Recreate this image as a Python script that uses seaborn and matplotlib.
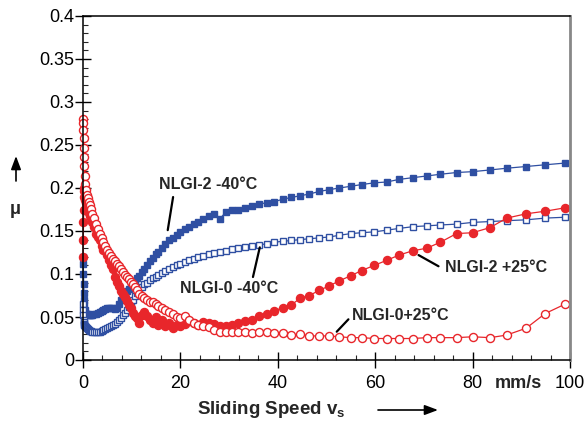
import numpy as np
import seaborn as sns
import matplotlib.pyplot as plt
from matplotlib.ticker import MultipleLocator, FuncFormatter

# sliding speed in mm/s (shared by all four runs)
speed = [0.03, 0.06, 0.1, 0.15, 0.2, 0.25, 0.3, 0.4, 0.5, 0.6, 0.8, 1.0, 1.2, 1.4, 1.6, 1.9,
         2.2, 2.6, 3.0, 3.4, 3.8, 4.2, 4.6, 5.0, 5.4, 5.8, 6.2, 6.6, 7.0, 7.4, 7.8, 8.2, 8.6, 9.0, 9.4, 9.8,
         10.2, 10.6, 11.1, 11.6, 12.1, 12.6, 13.1, 13.7, 14.3, 14.9, 15.5, 16.2, 16.9, 17.6, 18.4, 19.2,
         20.0, 20.9, 21.8, 22.7, 23.7, 24.7, 25.8, 26.9, 28.1, 29.3, 30.5, 31.8, 33.2, 34.6, 36.1, 37.7,
         39.3, 41.0, 42.8,
         44.6, 46.5, 48.5, 50.5, 52.6, 55.0, 57.2, 59.8, 62.4, 64.9, 67.7, 70.6, 73.4, 76.7, 80.0, 83.6,
         87.0, 91.0, 94.9, 99.0]

# friction coefficient mu
nlgi2_m40 = [0.120, 0.112, 0.100, 0.088, 0.078, 0.070, 0.064, 0.058, 0.055, 0.054, 0.053, 0.053, 0.052, 0.052, 0.052, 0.052,
             0.053, 0.054, 0.055, 0.056, 0.057, 0.058, 0.059, 0.060, 0.061, 0.061, 0.060, 0.059, 0.061, 0.065, 0.070, 0.075, 0.078, 0.080, 0.083, 0.087,
             0.089, 0.092, 0.095, 0.098, 0.102, 0.106, 0.111, 0.115, 0.119, 0.123, 0.126, 0.130, 0.135, 0.139, 0.142, 0.145,
             0.149, 0.152, 0.155, 0.158, 0.161, 0.164, 0.167, 0.170, 0.164, 0.172, 0.174, 0.175, 0.177, 0.179, 0.181, 0.183,
             0.184, 0.187, 0.189,
             0.191, 0.193, 0.196, 0.198, 0.200, 0.202, 0.204, 0.206, 0.207, 0.210, 0.212, 0.214, 0.216, 0.218, 0.219, 0.221,
             0.223, 0.225, 0.227, 0.229]

nlgi0_m40 = [0.065, 0.058, 0.052, 0.047, 0.044, 0.042, 0.041, 0.040, 0.039, 0.038, 0.037, 0.036, 0.035, 0.034, 0.034, 0.033,
             0.033, 0.032, 0.032, 0.033, 0.034, 0.035, 0.036, 0.037, 0.038, 0.039, 0.041, 0.042, 0.044, 0.046, 0.049, 0.052, 0.055, 0.058, 0.062, 0.065,
             0.070, 0.074, 0.078, 0.081, 0.085, 0.088, 0.090, 0.093, 0.095, 0.097, 0.099, 0.101, 0.104, 0.106, 0.108, 0.110,
             0.112, 0.114, 0.116, 0.118, 0.120, 0.121, 0.123, 0.124, 0.126, 0.127, 0.129, 0.130, 0.131, 0.133, 0.134, 0.135,
             0.137, 0.138, 0.139,
             0.140, 0.141, 0.142, 0.143, 0.145, 0.147, 0.148, 0.149, 0.151, 0.153, 0.155, 0.156, 0.157, 0.158, 0.160, 0.161,
             0.162, 0.163, 0.165, 0.166]

nlgi2_p25 = [0.120, 0.140, 0.160, 0.175, 0.190, 0.200, 0.196, 0.190, 0.186, 0.182, 0.178, 0.175, 0.171, 0.168, 0.165, 0.160,
             0.155, 0.147, 0.143, 0.139, 0.133, 0.128, 0.131, 0.122, 0.116, 0.111, 0.106, 0.097, 0.091, 0.086, 0.080, 0.077, 0.073, 0.069, 0.064, 0.060,
             0.055, 0.051, 0.049, 0.043, 0.052, 0.056, 0.051, 0.047, 0.043, 0.050, 0.041, 0.046, 0.039, 0.043, 0.037, 0.041,
             0.039, 0.042, 0.045, 0.043, 0.041, 0.044, 0.043, 0.042, 0.039, 0.040, 0.041, 0.043, 0.045, 0.047, 0.051, 0.054,
             0.057, 0.061, 0.064,
             0.072, 0.075, 0.081, 0.086, 0.092, 0.098, 0.104, 0.110, 0.116, 0.122, 0.127, 0.130, 0.137, 0.147, 0.148, 0.154,
             0.165, 0.170, 0.173, 0.177]

nlgi0_p25 = [0.280, 0.276, 0.268, 0.258, 0.247, 0.236, 0.226, 0.214, 0.205, 0.198, 0.192, 0.188, 0.184, 0.180, 0.176, 0.170,
             0.165, 0.158, 0.152, 0.147, 0.142, 0.137, 0.133, 0.128, 0.124, 0.121, 0.118, 0.115, 0.112, 0.109, 0.106, 0.102, 0.099, 0.096, 0.094, 0.091,
             0.088, 0.085, 0.081, 0.077, 0.074, 0.072, 0.070, 0.068, 0.067, 0.065, 0.063, 0.061, 0.058, 0.056, 0.054, 0.050,
             0.049, 0.051, 0.046, 0.043, 0.041, 0.040, 0.038, 0.035, 0.033, 0.032, 0.032, 0.032, 0.032, 0.031, 0.032, 0.032,
             0.031, 0.031, 0.029,
             0.030, 0.028, 0.028, 0.028, 0.027, 0.026, 0.026, 0.025, 0.025, 0.025, 0.025, 0.026, 0.026, 0.026, 0.027, 0.026,
             0.029, 0.037, 0.054, 0.065]

sns.set_style("ticks")
plt.rcParams['font.family'] = ['Liberation Sans', 'DejaVu Sans']
plt.rcParams['mathtext.fontset'] = 'custom'
plt.rcParams['mathtext.rm'] = 'Liberation Sans'
plt.rcParams['mathtext.bf'] = 'Liberation Sans:bold'

blue = '#2f4fa2'
red = '#e8262b'

fig = plt.figure(figsize=(5.87, 4.24), dpi=100)
ax = fig.add_axes([83 / 587, 64 / 424, 487 / 587, 344 / 424])

runs = [
    (nlgi2_m40, blue, 's', blue, 4.4),
    (nlgi0_m40, blue, 's', 'white', 4.4),
    (nlgi2_p25, red, 'o', red, 5.8),
    (nlgi0_p25, red, 'o', 'white', 5.8),
]
for mu, c, m, face, ms in runs:
    sns.lineplot(x=speed, y=mu, ax=ax, color=c, lw=0.9, marker=m, markersize=ms,
                 markerfacecolor=face, markeredgecolor=c, markeredgewidth=1.0,
                 estimator=None, clip_on=False)

ax.set_xlim(0, 100)
ax.set_ylim(0, 0.4)
ax.xaxis.set_major_locator(MultipleLocator(20))
ax.xaxis.set_minor_locator(MultipleLocator(4))
ax.yaxis.set_major_locator(MultipleLocator(0.05))
ax.yaxis.set_minor_locator(MultipleLocator(0.01))
ax.yaxis.set_major_formatter(FuncFormatter(lambda v, p: '%g' % round(v, 2)))
ax.set_xlabel('')
ax.set_ylabel('')

ax.tick_params(which='major', direction='inout', length=11, width=1, labelsize=13, colors='k')
ax.tick_params(axis='x', which='major', pad=5)
ax.tick_params(axis='y', which='major', pad=1)
ax.tick_params(which='minor', direction='in', length=3.5, width=0.8)

for s in ['left', 'bottom', 'top']:
    ax.spines[s].set_color('k')
    ax.spines[s].set_linewidth(1.1)
ax.spines['right'].set_color('#888888')
ax.spines['right'].set_linewidth(2)

# curve labels with leader lines
bold = dict(fontsize=11.5, fontweight='bold', ha='center', va='center')
lead = dict(arrowstyle='-', lw=1.6, color='k', shrinkA=0, shrinkB=0)
ax.text(25.7, 0.2035, 'NLGI-2 -40°C', **bold)
ax.annotate('', xy=(17.4, 0.151), xytext=(18.5, 0.1895), arrowprops=lead)
ax.text(30.0, 0.0837, 'NLGI-0 -40°C', **bold)
ax.annotate('', xy=(36.3, 0.131), xytext=(34.9, 0.0965), arrowprops=lead)
ax.text(84.8, 0.108, 'NLGI-2 +25°C', **bold)
ax.annotate('', xy=(68.9, 0.122), xytext=(73.0, 0.109), arrowprops=lead)
ax.text(65.3, 0.0523, 'NLGI-0+25°C', **bold)
ax.annotate('', xy=(52.1, 0.0329), xytext=(54.5, 0.0473), arrowprops=lead)

# axis titles drawn like the original (unit inside the tick row, arrows)
arrow = dict(arrowstyle='-|>,head_length=0.8,head_width=0.3', color='k', lw=1.2, shrinkA=0, shrinkB=0)
ax.text(89.5, -23 / 344, 'mm/s', transform=ax.get_xaxis_transform(),
        fontsize=13, fontweight='bold', ha='center', va='center')
fig.text(271 / 587, 14 / 424, r'Sliding Speed $\mathbf{v_s}$', fontsize=13.5,
         fontweight='bold', ha='center', va='center')
ax.annotate('', xy=(438, 14), xytext=(378, 14), xycoords='figure pixels', textcoords='figure pixels',
            arrowprops=arrow)
fig.text(15 / 587, 214 / 424, 'μ', fontsize=13, fontweight='bold', ha='center', va='center')
ax.annotate('', xy=(16, 268), xytext=(16, 243), xycoords='figure pixels', textcoords='figure pixels',
            arrowprops=arrow)

fig.savefig('out.png', dpi=100)
